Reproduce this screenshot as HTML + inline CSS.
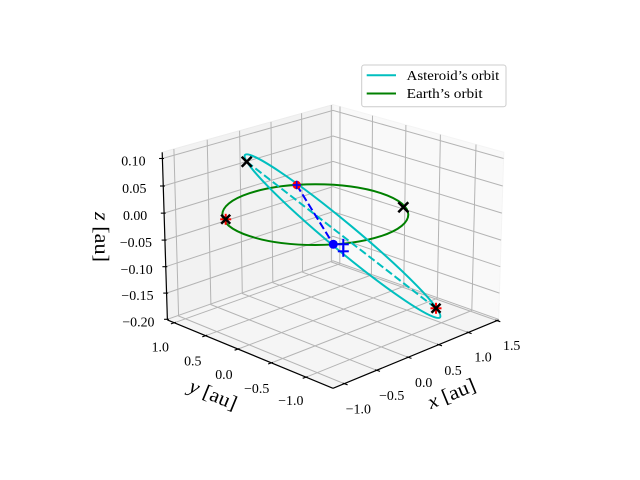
<!DOCTYPE html>
<html>
<head>
<meta charset="utf-8">
<style>
html,body{margin:0;padding:0;background:#fff;}
svg{display:block;}
text{font-family:"Liberation Serif","DejaVu Serif",serif;fill:#000;}
</style>
</head>
<body>
<svg width="640" height="480" viewBox="0 0 640 480" xmlns="http://www.w3.org/2000/svg">
<rect width="640" height="480" fill="#ffffff"/>

<!-- panes -->
<polygon points="167.4,319.9 333,261.4 333,104.6 162.2,152.3" fill="#f2f2f2" stroke="#ececec" stroke-width="1"/>
<polygon points="333,261.4 498.6,319.9 503.8,152.3 333,104.6" fill="#f9f9f9" stroke="#f4f4f4" stroke-width="1"/>
<polygon points="333,388.3 498.6,319.9 333,261.4 167.4,319.9" fill="#f5f5f5" stroke="#f0f0f0" stroke-width="1"/>

<!-- grid -->
<g fill="none" stroke="#b4b4b4" stroke-width="1">
<polyline points="344.3,383.7 178.6,316.0 173.9,149.0"/>
<polyline points="376.7,370.3 210.9,304.6 207.2,139.7"/>
<polyline points="408.2,357.3 242.3,293.5 239.6,130.7"/>
<polyline points="438.7,344.7 272.8,282.7 271.0,121.9"/>
<polyline points="468.3,332.5 302.5,272.2 301.6,113.3"/>
<polyline points="497.0,320.6 331.4,262.0 331.35,105.0"/>

<polyline points="306.0,377.2 471.8,310.5 476.0,144.5"/>
<polyline points="271.4,362.9 437.3,298.3 440.4,134.6"/>
<polyline points="237.9,349.1 403.8,286.4 405.9,125.0"/>
<polyline points="205.6,335.7 371.4,275.0 372.5,115.6"/>
<polyline points="174.2,322.8 339.8,263.8 340.0,106.5"/>

<polyline points="167.35,319.3 333,260.8 498.65,319.3"/>
<polyline points="166.55,293.1 333,236.3 499.45,293.1"/>
<polyline points="165.74,266.7 333,211.6 500.26,266.7"/>
<polyline points="164.92,240.1 333,186.6 501.08,240.1"/>
<polyline points="164.1,213.15 333,161.4 501.9,213.15"/>
<polyline points="163.26,186.0 333,136.0 502.74,186.0"/>
<polyline points="162.42,158.5 333,110.4 503.58,158.5"/>
</g>

<!-- spines -->
<g stroke="#000" stroke-width="1.2" fill="none">
<line x1="167.4" y1="319.9" x2="333" y2="388.3"/>
<line x1="333" y1="388.3" x2="498.6" y2="319.9"/>
<line x1="167.4" y1="319.9" x2="162.2" y2="152.3"/>
</g>

<!-- ticks -->
<g stroke="#000" stroke-width="1.1">
<line x1="159.1" y1="158.5" x2="164.0" y2="158.5"/>
<line x1="160.0" y1="186.0" x2="164.9" y2="186.0"/>
<line x1="160.8" y1="213.15" x2="165.7" y2="213.15"/>
<line x1="161.6" y1="240.1" x2="166.5" y2="240.1"/>
<line x1="162.4" y1="266.7" x2="167.3" y2="266.7"/>
<line x1="163.25" y1="293.1" x2="168.15" y2="293.1"/>
<line x1="164.05" y1="319.3" x2="168.95" y2="319.3"/>

<line x1="170.9" y1="323.9" x2="175.8" y2="322.25"/>
<line x1="202.3" y1="336.8" x2="207.2" y2="335.15"/>
<line x1="234.6" y1="350.2" x2="239.5" y2="348.55"/>
<line x1="268.1" y1="364.0" x2="273.0" y2="362.35"/>
<line x1="302.7" y1="378.3" x2="307.6" y2="376.65"/>

<line x1="347.6" y1="384.8" x2="342.7" y2="383.15"/>
<line x1="380.0" y1="371.4" x2="375.1" y2="369.75"/>
<line x1="411.5" y1="358.4" x2="406.6" y2="356.75"/>
<line x1="442.0" y1="345.8" x2="437.1" y2="344.15"/>
<line x1="471.6" y1="333.6" x2="466.7" y2="331.95"/>
<line x1="500.3" y1="321.7" x2="495.4" y2="320.05"/>
</g>

<!-- tick labels -->
<g font-size="13.9" text-anchor="middle">
<text x="133.4" y="165.6">0.10</text>
<text x="134.3" y="193.1">0.05</text>
<text x="135.1" y="220.2">0.00</text>
<text x="135.9" y="247.2">−0.05</text>
<text x="136.7" y="273.8">−0.10</text>
<text x="137.5" y="300.2">−0.15</text>
<text x="138.4" y="326.4">−0.20</text>

<text x="160.3" y="351.4">1.0</text>
<text x="192.8" y="365.4">0.5</text>
<text x="223.9" y="378.8">0.0</text>
<text x="256.7" y="392.9">−0.5</text>
<text x="290.8" y="405.1">−1.0</text>

<text x="358.3" y="413.4">−1.0</text>
<text x="391.7" y="400.1">−0.5</text>
<text x="423.7" y="387.1">0.0</text>
<text x="453.0" y="374.8">0.5</text>
<text x="483.0" y="361.4">1.0</text>
<text x="511.7" y="350.0">1.5</text>
</g>

<!-- axis labels -->
<g font-size="20" text-anchor="middle">
<text transform="translate(451.7,394) rotate(-22.4)" y="6" textLength="50" lengthAdjust="spacingAndGlyphs"><tspan font-style="italic">x</tspan> [au]</text>
<text transform="translate(213,395) rotate(22.4)" y="6" textLength="50" lengthAdjust="spacingAndGlyphs"><tspan font-style="italic">y</tspan> [au]</text>
<text transform="translate(101,237) rotate(90)" y="6" textLength="50" lengthAdjust="spacingAndGlyphs"><tspan font-style="italic">z</tspan> [au]</text>
</g>

<!-- Earth's orbit -->
<ellipse cx="315.3" cy="214.65" rx="93" ry="30.35" fill="none" stroke="#008000" stroke-width="2"/>

<!-- Asteroid's orbit -->
<ellipse cx="342.5" cy="236.15" rx="126.9" ry="13.3" transform="rotate(39.77 342.5 236.15)" fill="none" stroke="#00bfbf" stroke-width="2"/>
<line x1="246.7" y1="161.7" x2="436" y2="308.3" stroke="#00bfbf" stroke-width="2" stroke-dasharray="7.7 3.3"/>

<!-- line of nodes -->
<line x1="296.7" y1="185" x2="333.3" y2="244.3" stroke="#0000ff" stroke-width="2" stroke-dasharray="7.7 3.3"/>

<!-- markers -->
<g stroke-linecap="butt">
<!-- red + under black x -->
<g stroke="#ff0000" stroke-width="2">
<line x1="220.2" y1="219.3" x2="231.2" y2="219.3"/><line x1="225.7" y1="213.8" x2="225.7" y2="224.8"/>
<line x1="430.5" y1="308.3" x2="441.5" y2="308.3"/><line x1="436" y1="302.8" x2="436" y2="313.8"/>
</g>
<g stroke="#000" stroke-width="2.5">
<line x1="241.7" y1="156.7" x2="251.7" y2="166.7"/><line x1="241.7" y1="166.7" x2="251.7" y2="156.7"/>
<line x1="398.3" y1="202.3" x2="408.3" y2="212.3"/><line x1="398.3" y1="212.3" x2="408.3" y2="202.3"/>
<line x1="221.2" y1="214.8" x2="230.2" y2="223.8"/><line x1="221.2" y1="223.8" x2="230.2" y2="214.8"/>
<line x1="431.5" y1="303.8" x2="440.5" y2="312.8"/><line x1="431.5" y1="312.8" x2="440.5" y2="303.8"/>
</g>
<circle cx="296.7" cy="185" r="4.2" fill="#ff0000"/>
<g stroke="#0000ff" stroke-width="1.6">
<line x1="292.5" y1="185" x2="300.9" y2="185"/><line x1="296.7" y1="180.8" x2="296.7" y2="189.2"/>
</g>
<circle cx="333.3" cy="244.3" r="4.5" fill="#0000ff"/>
<g stroke="#0000ff" stroke-width="2">
<line x1="337.8" y1="244.3" x2="348.8" y2="244.3"/><line x1="343.3" y1="238.8" x2="343.3" y2="249.8"/>
<line x1="337.8" y1="251.3" x2="348.8" y2="251.3"/><line x1="343.3" y1="245.8" x2="343.3" y2="256.8"/>
</g>
</g>

<!-- legend -->
<rect x="361.7" y="65" width="144.3" height="41.7" rx="2.5" ry="2.5" fill="#ffffff" fill-opacity="0.8" stroke="#cccccc" stroke-width="1"/>
<line x1="366.7" y1="75.3" x2="396" y2="75.3" stroke="#00bfbf" stroke-width="2"/>
<line x1="366.7" y1="93.5" x2="396" y2="93.5" stroke="#008000" stroke-width="2"/>
<text x="406.7" y="80" font-size="13.9" textLength="92.6" lengthAdjust="spacingAndGlyphs">Asteroid’s orbit</text>
<text x="406.7" y="98.2" font-size="13.9" textLength="76" lengthAdjust="spacingAndGlyphs">Earth’s orbit</text>
</svg>
</body>
</html>
